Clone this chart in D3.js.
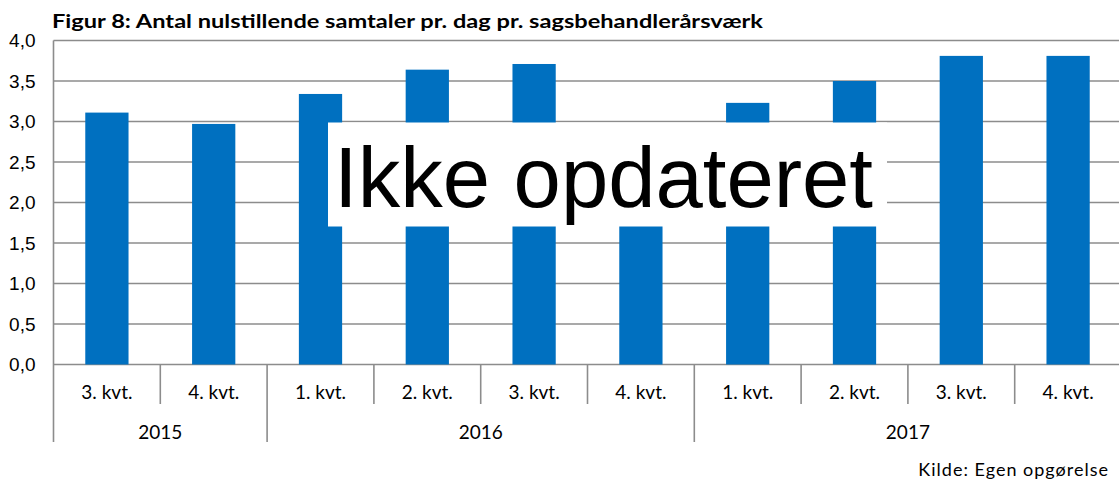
<!DOCTYPE html>
<html>
<head>
<meta charset="utf-8">
<script src="https://cdn.jsdelivr.net/npm/d3@7"></script>
<style>
  html, body { margin: 0; padding: 0; background: #fff; }
  svg { display: block; }
</style>
</head>
<body>
<div id="chart"></div>
<script>
// ── Data ─────────────────────────────────────────────
const quarters   = ["3. kvt.", "4. kvt.", "1. kvt.", "2. kvt.", "3. kvt.", "4. kvt.", "1. kvt.", "2. kvt.", "3. kvt.", "4. kvt."];
const values     = [3.11, 2.97, 3.34, 3.64, 3.71, 2.90, 3.23, 3.50, 3.81, 3.81];
const yearLabels = ["2015", "2016", "2017"];
const yearSpans  = [2, 4, 4];
const yTicks     = [0, 0.5, 1, 1.5, 2, 2.5, 3, 3.5, 4];

const W = 1119, H = 482;
const plot = { left: 53.5, right: 1121.5, top: 40.5, bottom: 364.5 };
const gridCol = "#8c8c8c", barCol = "#0070c0";

const svg = d3.select("#chart").append("svg")
  .attr("width", W).attr("height", H);

const x = d3.scaleBand().domain(d3.range(quarters.length)).range([plot.left, plot.right]).padding(0);
const y = d3.scaleLinear().domain([0, 4]).range([plot.bottom, plot.top]);

// Title
svg.append("text")
  .attr("x", 52).attr("y", 28)
  .attr("font-family", "Lato, sans-serif")
  .attr("font-weight", "bold")
  .attr("font-size", 18)
  .attr("textLength", 711)
  .attr("lengthAdjust", "spacingAndGlyphs")
  .attr("fill", "#000")
  .text("Figur 8: Antal nulstillende samtaler pr. dag pr. sagsbehandlerårsværk");

// Grid
svg.append("g")
  .selectAll("line").data(yTicks).enter().append("line")
  .attr("x1", plot.left).attr("x2", plot.right)
  .attr("y1", d => y(d)).attr("y2", d => y(d))
  .attr("stroke", gridCol).attr("stroke-width", 1.6);

// Y axis labels
const yAxis = svg.append("g")
  .attr("transform", `translate(${plot.left},0)`)
  .call(d3.axisLeft(y).tickValues(yTicks).tickSize(0).tickPadding(18)
    .tickFormat(d => d3.format(".1f")(d).replace(".", ",")));
yAxis.select(".domain").remove();
yAxis.selectAll("text")
  .attr("font-family", "'Liberation Sans', Arial, sans-serif")
  .attr("font-size", 19)
  .attr("fill", "#000");

// Bars
const bw = x.bandwidth() * 0.405;
svg.append("g")
  .selectAll("rect").data(values).enter().append("rect")
  .attr("x", (d, i) => x(i) + x.bandwidth() / 2 - bw / 2)
  .attr("y", d => y(d))
  .attr("width", bw)
  .attr("height", d => y(0) - y(d))
  .attr("fill", barCol);

// Left axis line
svg.append("line")
  .attr("x1", plot.left).attr("x2", plot.left)
  .attr("y1", plot.top).attr("y2", 442)
  .attr("stroke", gridCol).attr("stroke-width", 1.6);

// Category dividers (quarters) and year dividers
const yearStarts = [0];
yearSpans.forEach((s, i) => yearStarts.push(yearStarts[i] + s));
svg.append("g")
  .selectAll("line").data(d3.range(1, quarters.length + 1)).enter().append("line")
  .attr("x1", i => i < quarters.length ? x(i) : plot.right)
  .attr("x2", i => i < quarters.length ? x(i) : plot.right)
  .attr("y1", plot.bottom)
  .attr("y2", i => yearStarts.includes(i) ? 442 : 404)
  .attr("stroke", gridCol).attr("stroke-width", 1.6);

// Quarter labels
svg.append("g")
  .selectAll("text").data(quarters).enter().append("text")
  .attr("x", (d, i) => x(i) + x.bandwidth() / 2)
  .attr("y", 399)
  .attr("text-anchor", "middle")
  .attr("font-family", "Lato, sans-serif")
  .attr("font-size", 19)
  .attr("fill", "#000")
  .text(d => d);

// Year labels
svg.append("g")
  .selectAll("text").data(yearLabels).enter().append("text")
  .attr("x", (d, i) => {
    const a = x(yearStarts[i]);
    const b = yearStarts[i + 1] < quarters.length ? x(yearStarts[i + 1]) : plot.right;
    return (a + b) / 2;
  })
  .attr("y", 439)
  .attr("text-anchor", "middle")
  .attr("font-family", "Lato, sans-serif")
  .attr("font-size", 19)
  .attr("fill", "#000")
  .text(d => d);

// "Ikke opdateret" overlay
svg.append("rect")
  .attr("x", 328).attr("y", 122.5)
  .attr("width", 559).attr("height", 104)
  .attr("fill", "#fff");
svg.append("text")
  .attr("x", 334).attr("y", 206.5)
  .attr("font-family", "'Liberation Sans', Arial, sans-serif")
  .attr("font-size", 86)
  .attr("textLength", 539)
  .attr("lengthAdjust", "spacingAndGlyphs")
  .attr("fill", "#000")
  .text("Ikke opdateret");

// Source
svg.append("text")
  .attr("x", 1109).attr("y", 476)
  .attr("text-anchor", "end")
  .attr("font-family", "Lato, sans-serif")
  .attr("font-size", 18)
  .attr("letter-spacing", "1px")
  .attr("fill", "#000")
  .text("Kilde: Egen opgørelse");
</script>
</body>
</html>
